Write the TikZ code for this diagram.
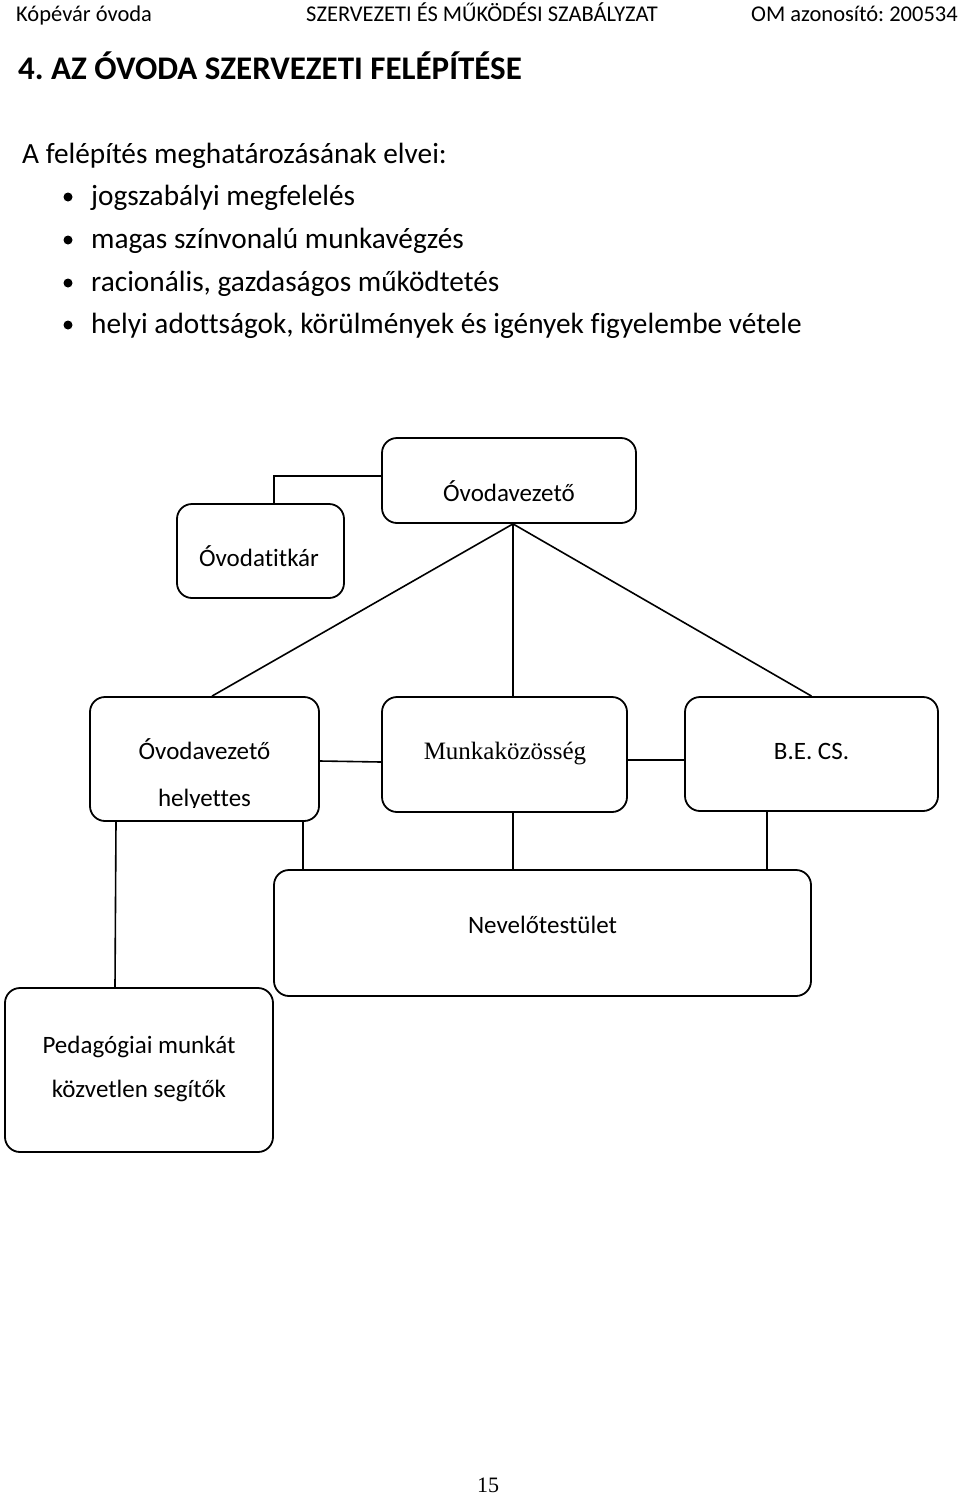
\documentclass[tikz,border=0pt]{standalone}
\usepackage{fontspec}
\setmainfont[Ligatures=NoCommon]{Carlito}
\newfontfamily\tnr{Liberation Serif}
\frenchspacing
\begin{document}
\begin{tikzpicture}[x=1pt,y=-1pt,
  box/.style={draw=black,line width=1.8pt,rounded corners=15pt,rectangle,inner sep=0pt},
  conn/.style={draw=black,line width=1.6pt},
  hdr/.style={anchor=base west,inner sep=0pt,font=\fontsize{22.5}{27}\selectfont},
  body/.style={anchor=base west,inner sep=0pt,font=\fontsize{29.3}{34}\selectfont},
  btxt/.style={anchor=base,inner sep=0pt,font=\fontsize{25}{30}\selectfont},
  dot/.style={circle,fill=black,inner sep=0pt,minimum size=9pt}
]
\useasboundingbox (0,0) rectangle (960,1496);
% header
\node[hdr] (h1) at (16,22) {Kópévár óvoda};
\node[hdr] (h2) at (306,22) {SZERVEZETI ÉS MŰKÖDÉSI SZABÁLYZAT};
\node[hdr,anchor=base east] (h3) at (958,22) {OM azonosító: 200534};
% title
\node[anchor=base west,inner sep=0pt,font=\fontsize{33}{40}\selectfont\bfseries] (title) at (18,80) {4. AZ ÓVODA SZERVEZETI FELÉPÍTÉSE};
% intro
\node[body] (intro) at (22,163) {A felépítés meghatározásának elvei:};
\node[dot] (d1) at (68,197) {};
\node[body] (b1) at (91,205) {jogszabályi megfelelés};
\node[dot] (d2) at (68,240) {};
\node[body] (b2) at (91,248) {magas színvonalú munkavégzés};
\node[dot] (d3) at (68,283) {};
\node[body] (b3) at (91,291) {racionális, gazdaságos működtetés};
\node[dot] (d4) at (68,325) {};
\node[body] (b4) at (91,333) {helyi adottságok, körülmények és igények figyelembe vétele};
% boxes
\node[box,minimum width=254pt,minimum height=85pt] (ov) at (509,480.5) {};
\node[box,minimum width=167pt,minimum height=94pt] (tit) at (260.5,551) {};
\node[box,minimum width=229pt,minimum height=124pt] (hel) at (204.5,759) {};
\node[box,minimum width=245pt,minimum height=115pt] (mk) at (504.5,754.5) {};
\node[box,minimum width=253pt,minimum height=114pt] (be) at (811.5,754) {};
\node[box,minimum width=537pt,minimum height=126pt] (nev) at (542.5,933) {};
\node[box,minimum width=268pt,minimum height=164pt] (ped) at (139,1070) {};
% box texts
\node[btxt] (tov) at (509,501) {Óvodavezető};
\node[btxt] (ttit) at (259,566) {Óvodatitkár};
\node[btxt] (thel1) at (204.5,759) {Óvodavezető};
\begin{scope}
\clip (90,697) rectangle (319,807);
\node[btxt] (thel2) at (204.5,806) {helyettes};
\end{scope}
\node[btxt,font=\tnr\fontsize{25}{30}\selectfont] (tmk) at (505,759) {Munkaközösség};
\node[btxt] (tbe) at (811.5,759) {B.E. CS.};
\node[btxt] (tnev) at (542.5,933) {Nevelőtestület};
\node[btxt] (tped1) at (139,1053) {Pedagógiai munkát};
\node[btxt] (tped2) at (139,1097) {közvetlen segítők};
% page number
\node[anchor=base,inner sep=0pt,font=\tnr\fontsize{22}{26}\selectfont] (pg) at (488,1492) {15};
% connectors
\coordinate (ovs) at ([xshift=4pt]ov.south);
\draw[conn] ([yshift=4.5pt]ov.west) -| ([xshift=13.5pt]tit.north);
\draw[conn] (ovs) -- ([xshift=7.5pt]hel.north);
\draw[conn] (ovs) -- ([xshift=8.5pt]mk.north);
\draw[conn] (ovs) -- (be.north);
\draw[conn] ([yshift=-2pt]hel.east) -- ([yshift=-7.5pt]mk.west);
\draw[conn] ([yshift=-5.5pt]mk.east) -- ([yshift=-6pt]be.west);
\draw[conn] ([xshift=98.5pt]hel.south) -- ([xshift=98.5pt]hel.south |- nev.north);
\draw[conn] ([xshift=8.5pt]mk.south) -- ([xshift=8.5pt]mk.south |- nev.north);
\draw[conn] ([xshift=-44.5pt]be.south) -- ([xshift=-44.5pt]be.south |- nev.north);
\draw[conn] ([xshift=-88.5pt]hel.south) -- ([xshift=-24pt]ped.north);
\end{tikzpicture}
\end{document}
